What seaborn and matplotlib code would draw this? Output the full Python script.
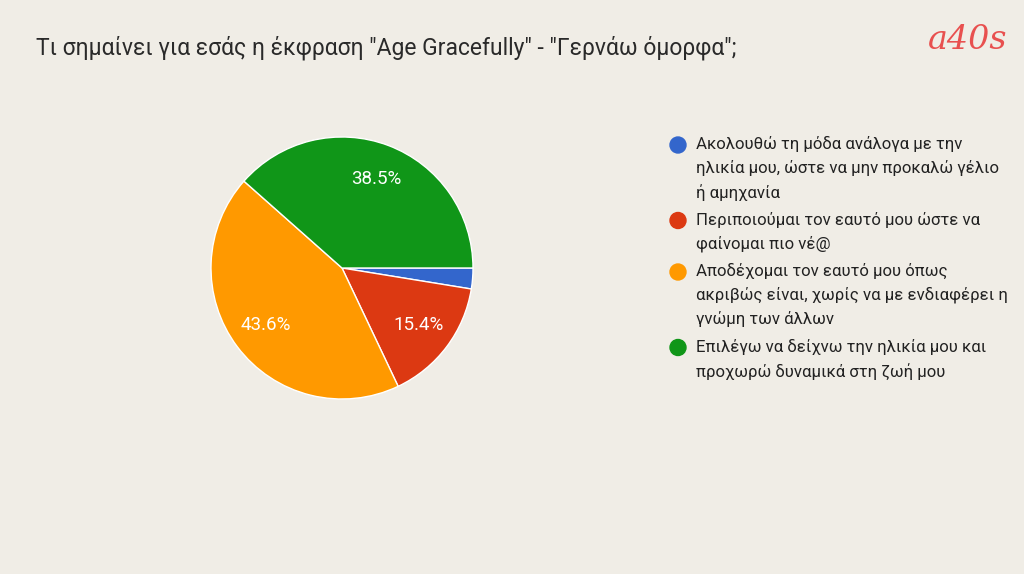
import matplotlib.pyplot as plt
import seaborn as sns
from matplotlib.patches import Circle

# Survey answers (Google Forms pie, 39 responses)
labels = [
    "Ακολουθώ τη μόδα ανάλογα με την\nηλικία μου, ώστε να μην προκαλώ γέλιο\nή αμηχανία",
    "Περιποιούμαι τον εαυτό μου ώστε να\nφαίνομαι πιο νέ@",
    "Αποδέχομαι τον εαυτό μου όπως\nακριβώς είναι, χωρίς να με ενδιαφέρει η\nγνώμη των άλλων",
    "Επιλέγω να δείχνω την ηλικία μου και\nπροχωρώ δυναμικά στη ζωή μου",
]
counts = [1, 6, 17, 15]
colors = ["#3366cc", "#dc3912", "#ff9900", "#109618"]

title = 'Τι σημαίνει για εσάς η έκφραση "Age Gracefully" - "Γερνάω όμορφα";'
bg = "#f0ede6"

sns.set_theme(style="white")
plt.rcParams["font.family"] = ["Roboto", "DejaVu Sans"]

fig = plt.figure(figsize=(10.24, 5.74), dpi=100)
fig.patch.set_facecolor(bg)

# pie axes: centre ~ (342, 268) px, radius ~131 px
ax = fig.add_axes([211 / 1024, (574 - 268 - 131) / 574, 262 / 1024, 262 / 574])
ax.set_facecolor(bg)


def pct_label(p):
    return f"{p:.1f}%" if p >= 5 else ""


wedges, texts, autotexts = ax.pie(
    counts,
    colors=colors,
    startangle=0,
    counterclock=False,
    autopct=pct_label,
    pctdistance=0.73,
    wedgeprops=dict(edgecolor="white", linewidth=1),
    textprops=dict(color="white", fontsize=13.5),
)
ax.set_xlim(-1, 1)
ax.set_ylim(-1, 1)
ax.axis("off")

# title
fig.text(36 / 1024, 1 - 48 / 574, title, fontsize=16.5, color="#2a2a2a",
         ha="left", va="center")

# logo
fig.text(968 / 1024, 1 - 40 / 574, "a40s", fontsize=24, color="#e8504f",
         ha="center", va="center", style="italic", family="DejaVu Serif")

# legend drawn by hand, circle next to the first line of each item
line_h = 24
y = 145
for lab, col in zip(labels, colors):
    dot = Circle((678 / 100, (574 - y) / 100), 8 / 100,
                 transform=fig.dpi_scale_trans, color=col)
    fig.patches.append(dot)
    n = lab.count("\n") + 1
    fig.text(696 / 1024, 1 - (y - 9) / 574, lab, fontsize=12.1,
             color="#222222", ha="left", va="top", linespacing=1.6)
    y += n * line_h + 3.5

fig.savefig("out.png", dpi=100, facecolor=bg)
